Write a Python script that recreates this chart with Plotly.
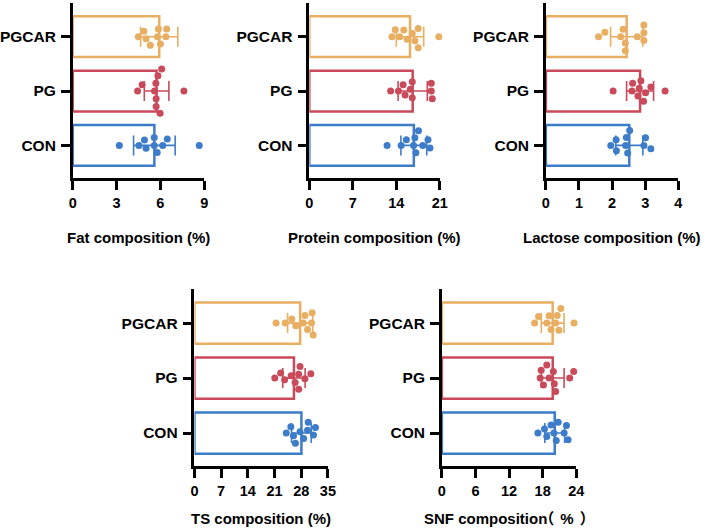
import math
import numpy as np
import plotly.graph_objects as go

# ---------------- data ----------------
groups = ["CON", "PG", "PGCAR"]

fat_con = [4.53, 5.78, 6.16, 3.19, 4.91, 5.58, 8.66, 6.47, 5.02, 5.58]
fat_pg = [5.83, 5.98, 6.09, 4.44, 7.61, 5.71, 4.75, 5.60, 5.69, 5.71]
fat_pgcar = [4.49, 5.02, 5.80, 6.43, 4.87, 5.31, 5.87, 6.38, 9.04, 6.00]

protein_con = [17.57, 18.26, 14.78, 17.15, 12.51, 19.10, 15.62, 16.78, 19.42, 16.99]
protein_pg = [14.35, 16.57, 19.63, 13.09, 15.09, 16.57, 19.63, 15.41, 16.25, 19.79]
protein_pgcar = [14.56, 17.52, 13.30, 15.20, 16.57, 20.84, 13.83, 15.73, 17.52, 17.00]

lactose_con = [2.53, 1.96, 2.96, 2.47, 2.12, 3.01, 2.41, 2.13, 3.17, 2.43]
lactose_pg = [2.95, 2.60, 3.01, 2.03, 2.62, 3.17, 3.60, 2.87, 2.78, 2.82]
lactose_pgcar = [2.40, 2.76, 1.59, 2.26, 2.96, 1.78, 2.33, 2.96, 2.40, 2.96]

ts_con = [24.08, 29.66, 26.48, 31.21, 25.28, 29.84, 27.69, 31.73, 25.97, 28.63]
ts_pg = [27.34, 21.07, 23.65, 27.69, 28.98, 22.61, 25.37, 27.34, 30.52, 26.40]
ts_pgcar = [29.66, 30.70, 23.82, 21.41, 26.57, 28.98, 30.87, 25.54, 28.55, 31.13]

snf_con = [18.74, 21.84, 17.15, 20.78, 19.50, 22.25, 18.33, 20.43, 20.02, 22.54]
snf_pg = [17.56, 20.08, 17.74, 20.32, 22.83, 18.15, 19.91, 23.54, 18.74, 19.15]
snf_pgcar = [20.61, 18.74, 16.57, 20.90, 19.15, 23.60, 17.27, 21.25, 19.50, 20.32]

fat_ticks = [0, 3, 6, 9]
protein_ticks = [0, 7, 14, 21]
lactose_ticks = [0, 1, 2, 3, 4]
ts_ticks = [0, 7, 14, 21, 28, 35]
snf_ticks = [0, 6, 12, 18, 24]

titles = ["Fat composition (%)", "Protein composition (%)", "Lactose composition (%)",
          "TS composition (%)",
          "SNF compositio<span style=\"letter-spacing:-8px\">n</span>"
          "<span style=\"letter-spacing:6px\">（</span>"
          "<span style=\"letter-spacing:6px\">%</span>）"]

# ---------------- layout / style ----------------
W, H = 708, 528
colors = ["#3D7CC8", "#C94A5A", "#E8AE62"]
FONT = "Liberation Sans, Arial, Noto Sans CJK SC, sans-serif"

panels = [
    dict(data=[fat_con, fat_pg, fat_pgcar], ticks=fat_ticks, xpx=(69, 203), ypx=(3, 178), title_y=238),
    dict(data=[protein_con, protein_pg, protein_pgcar], ticks=protein_ticks, xpx=(310, 443), ypx=(3, 178), title_y=238),
    dict(data=[lactose_con, lactose_pg, lactose_pgcar], ticks=lactose_ticks, xpx=(551, 686), ypx=(3, 178), title_y=238),
    dict(data=[ts_con, ts_pg, ts_pgcar], ticks=ts_ticks, xpx=(193, 329), ypx=(289, 466), title_y=518),
    dict(data=[snf_con, snf_pg, snf_pgcar], ticks=snf_ticks, xpx=(445, 582), ypx=(289, 466), title_y=518),
]
YR = [-0.6, 2.62]
DOT = 7


def swarm(vals, px_per_x, px_per_y, d):
    """Simple beeswarm: vertical offsets (in y data units) avoiding dot overlap."""
    n = len(vals)
    offs = [0.0] * n
    placed = []
    for i in sorted(range(n), key=lambda k: vals[k]):
        x = vals[i] * px_per_x
        cands = [0.0]
        for (px, py) in placed:
            dx = x - px
            if abs(dx) < d:
                h = math.sqrt(d * d - dx * dx)
                cands += [py + h, py - h]
        cands.sort(key=lambda c: (abs(c), c))
        chosen = 0.0
        for c in cands:
            if all((x - px) ** 2 + (c - py) ** 2 >= d * d - 1e-6 for px, py in placed):
                chosen = c
                break
        placed.append((x, chosen))
        offs[i] = -chosen / px_per_y
    return offs


fig = go.Figure()
annotations = []
for k, p in enumerate(panels):
    idx = "" if k == 0 else str(k + 1)
    xa, ya = "x" + idx, "y" + idx
    x0, x1 = p["xpx"]
    yt, yb = p["ypx"]
    xmax = p["ticks"][-1]
    px_per_x = (x1 - x0) / xmax
    px_per_y = (yb - yt) / (YR[1] - YR[0])
    means = [float(np.mean(v)) for v in p["data"]]
    sds = [float(np.std(v, ddof=1)) for v in p["data"]]
    cats = list(range(len(groups)))

    fig.add_trace(go.Bar(
        x=means, y=cats, orientation="h", width=0.75,
        marker=dict(color="rgba(255,255,255,0)", line=dict(color=colors, width=2.5)),
        xaxis=xa, yaxis=ya, showlegend=False, hoverinfo="skip"))

    for g, vals in enumerate(p["data"]):
        offs = swarm(vals, px_per_x, px_per_y, DOT + 0.8)
        fig.add_trace(go.Scatter(
            x=vals, y=[g + o for o in offs], mode="markers",
            marker=dict(color=colors[g], size=DOT, line=dict(width=0)),
            xaxis=xa, yaxis=ya, showlegend=False, cliponaxis=False))

    for g in cats:
        fig.add_trace(go.Scatter(
            x=[means[g]], y=[g], mode="markers", marker=dict(size=0.1, opacity=0),
            error_x=dict(type="data", array=[sds[g]], symmetric=True,
                         color=colors[g], thickness=1.6, width=10),
            xaxis=xa, yaxis=ya, showlegend=False, cliponaxis=False))

    axis_common = dict(showline=True, linecolor="black", linewidth=2.5, ticks="outside",
                       ticklen=9, tickwidth=2.5, tickcolor="black", showgrid=False, zeroline=False)
    fig.layout["xaxis" + idx] = dict(
        domain=[x0 / W, x1 / W], range=[0, xmax * 1.0005], anchor=ya,
        tickvals=p["ticks"], ticktext=[str(t) for t in p["ticks"]],
        tickfont=dict(family=FONT, size=14.5, color="black"), ticklabelstandoff=1,
        **axis_common)
    fig.layout["yaxis" + idx] = dict(
        domain=[1 - yb / H, 1 - yt / H], range=YR, anchor=xa,
        tickvals=cats, ticktext=groups,
        tickfont=dict(family=FONT, size=15.5, color="black"), ticklabelstandoff=2,
        **axis_common)

    annotations.append(dict(
        x=(x0 + x1) / 2 / W, y=1 - p["title_y"] / H, xref="paper", yref="paper",
        text="<b>" + titles[k] + "</b>", showarrow=False, xanchor="center", yanchor="middle",
        font=dict(family=FONT, size=15, color="black")))

fig.update_layout(
    width=W, height=H, margin=dict(l=0, r=0, t=0, b=0),
    paper_bgcolor="white", plot_bgcolor="white",
    font=dict(family=FONT, color="black", weight="bold"),
    annotations=annotations, barmode="overlay")

fig.write_html("out.html")
